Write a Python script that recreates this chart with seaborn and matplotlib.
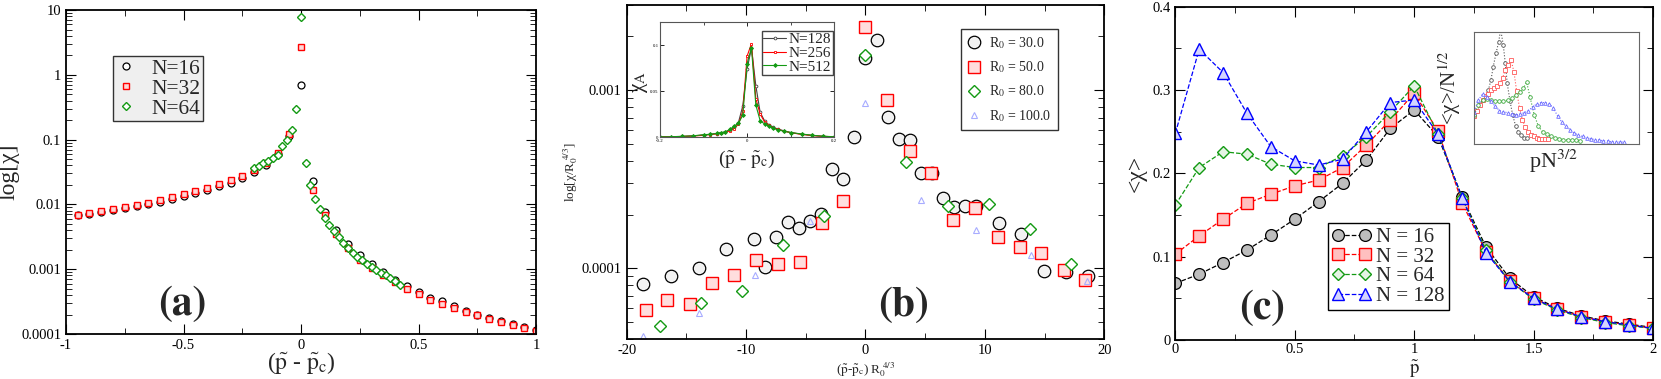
import matplotlib
matplotlib.use("Agg")
import matplotlib.pyplot as plt
from matplotlib.ticker import FuncFormatter, MultipleLocator, LogLocator, NullFormatter
import seaborn as sns

# ---------------- panel (a): log chi vs (p - pc) ----------------
a_x_16_32 = [-0.95, -0.9, -0.85, -0.8, -0.75, -0.7, -0.65, -0.6, -0.55, -0.5,
             -0.45, -0.4, -0.35, -0.3, -0.25, -0.2, -0.15, -0.1, -0.05, 0.0,
             0.05, 0.1, 0.15, 0.2, 0.25, 0.3, 0.35, 0.4, 0.45, 0.5,
             0.55, 0.6, 0.65, 0.7, 0.75, 0.8, 0.85, 0.9, 0.95, 1.0]
a_chi_16 = [0.0068, 0.0072, 0.0076, 0.0081, 0.0087, 0.0094, 0.0101, 0.0110, 0.0120, 0.0133,
            0.0148, 0.0165, 0.0190, 0.0217, 0.0258, 0.0320, 0.0410, 0.0590, 0.115, 0.70,
            0.0231, 0.0077, 0.0040, 0.00245, 0.00166, 0.00119, 0.00089, 0.00069, 0.00055, 0.00044,
            0.00036, 0.00032, 0.00027, 0.00023, 0.000199, 0.000178, 0.000158, 0.000142, 0.000127, 0.000115]
a_chi_32 = [0.0069, 0.0074, 0.0079, 0.0085, 0.0091, 0.0099, 0.0107, 0.0117, 0.0128, 0.0143,
            0.0160, 0.0178, 0.0206, 0.0234, 0.0276, 0.0340, 0.0430, 0.0620, 0.122, 2.73,
            0.0168, 0.0068, 0.0035, 0.0021, 0.00141, 0.00105, 0.00081, 0.00064, 0.00050, 0.00041,
            0.00034, 0.00029, 0.00025, 0.000218, 0.000195, 0.000172, 0.000153, 0.000138, 0.000124, 0.000113]
a_x_64 = [-0.2, -0.18, -0.16, -0.14, -0.12, -0.1, -0.08, -0.06, -0.04, -0.02, 0.0,
          0.02, 0.04, 0.06, 0.08, 0.1, 0.12, 0.14, 0.16, 0.18, 0.2,
          0.22, 0.24, 0.26, 0.28, 0.3, 0.32, 0.34, 0.36, 0.38, 0.4, 0.42]
a_chi_64 = [0.0366, 0.0398, 0.0437, 0.0475, 0.0522, 0.0588, 0.0789, 0.0977, 0.139, 0.296, 7.7,
            0.043, 0.020, 0.0121, 0.0085, 0.0062, 0.0048, 0.0039, 0.0031, 0.0025, 0.0021,
            0.00178, 0.00155, 0.00138, 0.00121, 0.00108, 0.00098, 0.00088, 0.00080, 0.00072, 0.00065, 0.00058]

# ---------------- panel (b): scaled chi vs scaled distance ----------------
b_x_30 = [-18.65, -16.26, -13.96, -11.66, -9.30, -8.40, -7.47, -6.52, -5.56, -4.63,
          -3.71, -2.78, -1.85, -0.93, 0.0, 0.93, 1.85, 2.78, 3.74, 4.66,
          5.59, 6.52, 7.44, 8.37, 9.30, 11.18, 13.06, 14.92, 16.77, 18.62]
b_y_30 = [8.13e-5, 9.0e-5, 1.0e-4, 1.28e-4, 1.46e-4, 1.02e-4, 1.49e-4, 1.81e-4, 1.68e-4, 1.85e-4,
          2.01e-4, 3.61e-4, 3.17e-4, 5.43e-4, 1.52e-3, 1.91e-3, 7.03e-4, 5.34e-4, 5.22e-4, 3.40e-4,
          3.44e-4, 2.49e-4, 2.20e-4, 2.24e-4, 2.22e-4, 1.80e-4, 1.56e-4, 9.58e-5, 9.46e-5, 9.0e-5]
b_x_50 = [-18.42, -16.59, -14.71, -12.86, -11.03, -9.21, -7.35, -5.50, -3.68, -1.85, 0.0,
          1.82, 3.71, 5.53, 7.35, 9.21, 11.06, 12.91, 14.74, 16.59, 18.42]
b_y_50 = [5.81e-5, 6.59e-5, 6.29e-5, 8.24e-5, 9.18e-5, 1.11e-4, 1.05e-4, 1.08e-4, 1.79e-4, 2.37e-4, 2.27e-3,
          8.83e-4, 4.53e-4, 3.44e-4, 1.86e-4, 2.17e-4, 1.50e-4, 1.32e-4, 1.21e-4, 9.70e-5, 8.6e-5]
b_x_80 = [-17.22, -13.75, -10.31, -6.88, -3.44, 0.0, 3.41, 6.88, 10.34, 13.78, 17.25]
b_y_80 = [4.71e-5, 6.37e-5, 7.46e-5, 1.35e-4, 1.97e-4, 1.57e-3, 3.94e-4, 2.22e-4, 2.30e-4, 1.66e-4, 1.05e-4]
b_x_100 = [-18.6, -13.96, -9.27, -4.63, 0.0, 4.63, 9.27, 13.9, 18.53]
b_y_100 = [4.14e-5, 5.6e-5, 9.18e-5, 1.83e-4, 8.42e-4, 2.4e-4, 1.64e-4, 1.19e-4, 8.49e-5]

# inset of (b): chi_A vs (p - pc)
bi_x = [-0.2, -0.175, -0.15, -0.125, -0.1, -0.085, -0.07, -0.06, -0.05, -0.04, -0.03, -0.02, -0.01,
        0.0, 0.01, 0.02, 0.03, 0.04, 0.05, 0.06, 0.07, 0.085, 0.1, 0.125, 0.15, 0.175, 0.2]
bi_128 = [0.0005, 0.0006, 0.0009, 0.0015, 0.0025, 0.0032, 0.0040, 0.0048, 0.0058, 0.0075, 0.011, 0.016, 0.034,
          0.074, 0.097, 0.056, 0.027, 0.018, 0.0135, 0.011, 0.009, 0.007, 0.0052, 0.0034, 0.0020, 0.0010, 0.0006]
bi_256 = [0.0005, 0.0006, 0.0009, 0.0014, 0.0022, 0.0030, 0.0038, 0.0046, 0.0056, 0.0070, 0.0095, 0.014, 0.028,
          0.088, 0.1015, 0.042, 0.025, 0.017, 0.013, 0.0105, 0.0085, 0.0067, 0.0050, 0.0032, 0.0019, 0.0010, 0.0006]
bi_512 = [0.0005, 0.0006, 0.0011, 0.0016, 0.0028, 0.0033, 0.0042, 0.0050, 0.0060, 0.0085, 0.012, 0.015, 0.024,
          0.080, 0.097, 0.035, 0.018, 0.0145, 0.012, 0.0098, 0.0082, 0.0066, 0.0052, 0.0036, 0.0022, 0.0012, 0.0006]

# ---------------- panel (c): <chi> vs p ----------------
c_p = [0.0, 0.1, 0.2, 0.3, 0.4, 0.5, 0.6, 0.7, 0.8, 0.9, 1.0,
       1.1, 1.2, 1.3, 1.4, 1.5, 1.6, 1.7, 1.8, 1.9, 2.0]
c_16 = [0.068, 0.079, 0.093, 0.108, 0.126, 0.145, 0.166, 0.188, 0.216, 0.254, 0.276,
        0.244, 0.172, 0.112, 0.074, 0.052, 0.038, 0.029, 0.023, 0.019, 0.015]
c_32 = [0.103, 0.125, 0.145, 0.164, 0.175, 0.185, 0.192, 0.207, 0.234, 0.264, 0.296,
        0.251, 0.165, 0.106, 0.071, 0.050, 0.037, 0.028, 0.022, 0.018, 0.014]
c_64 = [0.162, 0.207, 0.226, 0.223, 0.211, 0.207, 0.207, 0.221, 0.244, 0.274, 0.305,
        0.247, 0.171, 0.108, 0.070, 0.049, 0.036, 0.027, 0.021, 0.017, 0.014]
c_128 = [0.248, 0.349, 0.321, 0.272, 0.232, 0.215, 0.210, 0.217, 0.250, 0.285, 0.288,
         0.247, 0.171, 0.105, 0.070, 0.050, 0.037, 0.028, 0.022, 0.018, 0.014]

# inset of (c): <chi>/N^(1/2) vs pN^(3/2) (no tick labels, arbitrary units)
ci_x16 = [0, 0.18, 0.34, 0.51, 0.69, 0.85, 1.01, 1.15, 1.32, 1.48, 1.60,
          1.76, 1.88, 2.00, 2.17, 2.33, 2.51, 2.67, 2.83, 3.00, 3.18]
ci_y16 = [0.25, 0.30, 0.35, 0.39, 0.42, 0.48, 0.57, 0.69, 0.81, 0.91, 1.02,
          0.88, 0.72, 0.54, 0.38, 0.26, 0.16, 0.11, 0.08, 0.06, 0.06]
ci_x32 = [0, 0.16, 0.34, 0.51, 0.69, 0.85, 1.03, 1.19, 1.38, 1.54, 1.72, 1.88, 2.06, 2.23,
          2.41, 2.57, 2.75, 2.91, 3.10, 3.26, 3.44, 3.60, 3.79, 3.95, 4.13, 4.29, 4.47]
ci_y32 = [0.25, 0.30, 0.35, 0.39, 0.43, 0.45, 0.48, 0.50, 0.52, 0.54, 0.59, 0.66, 0.70, 0.75,
          0.64, 0.47, 0.32, 0.22, 0.15, 0.11, 0.08, 0.07, 0.06, 0.05, 0.05, 0.05, 0.05]
ci_x64 = [0, 0.24, 0.51, 0.75, 1.01, 1.26, 1.52, 1.76, 2.02, 2.27, 2.53, 2.77, 2.98, 3.18,
          3.38, 3.64, 3.89, 4.15, 4.39, 4.66, 4.90, 5.16, 5.40, 5.67, 5.91, 6.17, 6.42]
ci_y64 = [0.26, 0.35, 0.39, 0.40, 0.39, 0.38, 0.38, 0.38, 0.39, 0.41, 0.44, 0.46, 0.50, 0.55,
          0.42, 0.26, 0.16, 0.11, 0.09, 0.07, 0.06, 0.05, 0.04, 0.04, 0.04, 0.04, 0.03]
ci_x128 = [0, 0.24, 0.51, 0.75, 1.01, 1.26, 1.52, 1.76, 2.02, 2.27, 2.53, 2.77, 3.04, 3.28,
           3.54, 3.79, 4.05, 4.29, 4.55, 4.80, 5.06, 5.30, 5.57, 5.81, 6.07, 6.32, 6.58, 6.82,
           7.09, 7.33, 7.59, 7.83, 8.10, 8.34, 8.60, 8.85, 9.09]
ci_y128 = [0.29, 0.39, 0.45, 0.42, 0.38, 0.34, 0.30, 0.29, 0.28, 0.27, 0.26, 0.27, 0.28, 0.30,
           0.33, 0.36, 0.37, 0.37, 0.36, 0.32, 0.25, 0.20, 0.16, 0.13, 0.10, 0.08, 0.07, 0.06,
           0.05, 0.04, 0.04, 0.03, 0.03, 0.02, 0.02, 0.02, 0.02]

GREEN = "#139a13"

sns.set_style("ticks")
plt.rcParams.update({
    "font.family": ["Liberation Serif", "DejaVu Serif"],
    "mathtext.fontset": "stix",
    "axes.edgecolor": "black",
    "axes.linewidth": 1.3,
    "xtick.direction": "in",
    "ytick.direction": "in",
    "xtick.top": True,
    "ytick.right": True,
    "xtick.major.size": 7,
    "ytick.major.size": 7,
    "xtick.minor.size": 4,
    "ytick.minor.size": 4,
    "xtick.labelsize": 10.5,
    "ytick.labelsize": 10.5,
    "xtick.color": "black",
    "ytick.color": "black",
})

fmt_g = FuncFormatter(lambda v, pos: f"{v:g}")
PTILDE = r"($\tilde{\mathrm{p}}$ - $\tilde{\mathrm{p}}_{\mathrm{c}}$)"


def draw(ax, x, y, **kw):
    sns.lineplot(x=x, y=y, ax=ax, estimator=None, sort=False, errorbar=None, **kw)
    return ax.lines[-1]


def panel_tag(ax, x, y, s):
    ax.text(x, y, s, transform=ax.transAxes, fontsize=30, fontweight="bold",
            family="STIXGeneral", ha="center", va="center")


fig = plt.figure(figsize=(16.61, 3.79), dpi=100)

# ======== (a) ========
ax_a = fig.add_axes([0.03973, 0.1187, 0.2830, 0.8549])
la1 = draw(ax_a, a_x_16_32, a_chi_16, color="black", marker="o", ms=5, mfc="white",
           mec="black", mew=0.9, linestyle="none")
la2 = draw(ax_a, a_x_16_32, a_chi_32, color="red", marker="s", ms=5, mfc="#ffd6d6",
           mec="red", mew=1.0, linestyle="none")
la3 = draw(ax_a, a_x_64, a_chi_64, color=GREEN, marker="D", ms=4.2, mfc="white",
           mec=GREEN, mew=1.0, linestyle="none")
ax_a.set_yscale("log")
ax_a.set_xlim(-1, 1)
ax_a.set_ylim(1e-4, 10)
ax_a.xaxis.set_major_locator(MultipleLocator(0.5))
ax_a.xaxis.set_minor_locator(MultipleLocator(0.25))
ax_a.xaxis.set_major_formatter(fmt_g)
ax_a.yaxis.set_major_locator(LogLocator(base=10, numticks=10))
ax_a.yaxis.set_minor_locator(LogLocator(base=10, subs=range(2, 10), numticks=10))
ax_a.yaxis.set_major_formatter(fmt_g)
ax_a.yaxis.set_minor_formatter(NullFormatter())
ax_a.set_ylabel("log[χ]", fontsize=17)
ax_a.yaxis.set_label_coords(-0.098, 0.5)
ax_a.set_xlabel(PTILDE, fontsize=17)
ax_a.xaxis.set_label_coords(0.5, -0.05)
leg = ax_a.legend([la1, la2, la3], ["N=16", "N=32", "N=64"], loc="upper left",
                  bbox_to_anchor=(0.099, 0.858), borderaxespad=0, fontsize=15.5,
                  labelspacing=0.0, handlelength=1.0, handletextpad=0.7, borderpad=0.12,
                  fancybox=False, framealpha=1, numpoints=1)
leg.get_frame().set_facecolor("#efefef")
leg.get_frame().set_edgecolor("#333333")
panel_tag(ax_a, 0.247, 0.09, "(a)")

# ======== (b) ========
ax_b = fig.add_axes([0.3773, 0.1055, 0.2875, 0.8813])
lb1 = draw(ax_b, b_x_30, b_y_30, color="black", marker="o", ms=9, mfc="#f2f2f2",
           mec="black", mew=0.9, linestyle="none")
lb2 = draw(ax_b, b_x_50, b_y_50, color="red", marker="s", ms=8, mfc="#ffdede",
           mec="red", mew=1.0, linestyle="none")
lb3 = draw(ax_b, b_x_80, b_y_80, color=GREEN, marker="D", ms=6.5, mfc="white",
           mec=GREEN, mew=1.0, linestyle="none")
lb4 = draw(ax_b, b_x_100, b_y_100, color="#a8acff", marker="^", ms=5, mfc="none",
           mec="#a8acff", mew=0.8, linestyle="none")
ax_b.set_yscale("log")
ax_b.set_xlim(-20, 20)
ax_b.set_ylim(4.0e-5, 3.0e-3)
ax_b.xaxis.set_major_locator(MultipleLocator(10))
ax_b.xaxis.set_minor_locator(MultipleLocator(5))
ax_b.xaxis.set_major_formatter(fmt_g)
ax_b.yaxis.set_major_locator(LogLocator(base=10, numticks=10))
ax_b.yaxis.set_minor_locator(LogLocator(base=10, subs=range(2, 10), numticks=10))
ax_b.yaxis.set_major_formatter(fmt_g)
ax_b.yaxis.set_minor_formatter(NullFormatter())
ax_b.set_ylabel(r"log[χ/R$_0^{\ 4/3}$]", fontsize=9.5)
ax_b.yaxis.set_label_coords(-0.098, 0.5)
ax_b.set_xlabel(r"($\tilde{\mathrm{p}}$-$\tilde{\mathrm{p}}_{\mathrm{c}}$) R$_0^{\ 4/3}$", fontsize=9.5)
ax_b.xaxis.set_label_coords(0.5, -0.065)
ax_b.legend([lb1, lb2, lb3, lb4],
            [r"R$_0$ = 30.0", r"R$_0$ = 50.0", r"R$_0$ = 80.0", r"R$_0$ = 100.0"],
            loc="upper left", bbox_to_anchor=(0.70, 0.928), borderaxespad=0, fontsize=10,
            labelspacing=0.6, handlelength=1.0, handletextpad=0.6, borderpad=0.45,
            fancybox=False, framealpha=1, edgecolor="#333333", numpoints=1)
panel_tag(ax_b, 0.58, 0.10, "(b)")

# inset (b)
ax_bi = fig.add_axes([0.3974, 0.6377, 0.1048, 0.3043])
lbi1 = draw(ax_bi, bi_x, bi_128, color="#444444", marker="o", ms=2, mfc="white",
            mec="#444444", mew=0.6, lw=0.8)
lbi2 = draw(ax_bi, bi_x, bi_256, color="red", marker="s", ms=2, mfc="white",
            mec="red", mew=0.6, lw=0.8)
lbi3 = draw(ax_bi, bi_x, bi_512, color=GREEN, marker="D", ms=2, mfc=GREEN,
            mec=GREEN, mew=0.6, lw=0.8)
ax_bi.set_xlim(-0.2, 0.2)
ax_bi.set_ylim(0, 0.125)
ax_bi.xaxis.set_major_locator(MultipleLocator(0.2))
ax_bi.xaxis.set_minor_locator(MultipleLocator(0.1))
ax_bi.yaxis.set_major_locator(MultipleLocator(0.05))
ax_bi.xaxis.set_major_formatter(fmt_g)
ax_bi.yaxis.set_major_formatter(fmt_g)
ax_bi.tick_params(labelsize=3.5, length=3, width=0.6, pad=1)
ax_bi.tick_params(which="minor", length=2, width=0.5)
for sp in ax_bi.spines.values():
    sp.set_linewidth(0.8)
    sp.set_color("#555555")
ax_bi.set_ylabel(r"χ$_{\mathrm{A}}$", fontsize=15)
ax_bi.yaxis.set_label_coords(-0.06, 0.48)
ax_bi.set_xlabel(PTILDE, fontsize=14)
ax_bi.xaxis.set_label_coords(0.5, -0.1)
ax_bi.legend([lbi1, lbi2, lbi3], ["N=128", "N=256", "N=512"], loc="upper left",
             bbox_to_anchor=(0.584, 0.922), borderaxespad=0, fontsize=11,
             labelspacing=0.0, handlelength=1.5, handletextpad=0.15, borderpad=0.1,
             fancybox=False, framealpha=1, edgecolor="#444444")

# ======== (c) ========
ax_c = fig.add_axes([0.7076, 0.1029, 0.2876, 0.8794])
lc1 = draw(ax_c, c_p, c_16, color="black", marker="o", ms=8.5, mfc="#bdbdbd",
           mec="black", mew=0.9, linestyle="--", lw=0.9, dashes=(4, 2))
lc2 = draw(ax_c, c_p, c_32, color="red", marker="s", ms=8, mfc="#ffc0c0",
           mec="red", mew=1.0, linestyle="--", lw=0.9, dashes=(4, 2))
lc3 = draw(ax_c, c_p, c_64, color=GREEN, marker="D", ms=6.5, mfc="#e4f4e4",
           mec=GREEN, mew=1.0, linestyle="--", lw=0.9, dashes=(4, 2))
lc4 = draw(ax_c, c_p, c_128, color="blue", marker="^", ms=9, mfc="#d4d4ff",
           mec="blue", mew=1.0, linestyle="--", lw=0.9, dashes=(4, 2))
ax_c.set_xlim(0, 2)
ax_c.set_ylim(0, 0.4)
ax_c.xaxis.set_major_locator(MultipleLocator(0.5))
ax_c.xaxis.set_minor_locator(MultipleLocator(0.25))
ax_c.yaxis.set_major_locator(MultipleLocator(0.1))
ax_c.yaxis.set_minor_locator(MultipleLocator(0.05))
ax_c.xaxis.set_major_formatter(fmt_g)
ax_c.yaxis.set_major_formatter(fmt_g)
ax_c.tick_params(axis="x", which="major", pad=2)
ax_c.set_ylabel("<χ>", fontsize=17)
ax_c.yaxis.set_label_coords(-0.059, 0.5)
ax_c.set_xlabel(r"$\tilde{\mathrm{p}}$", fontsize=13.5)
ax_c.xaxis.set_label_coords(0.5, -0.056)
ax_c.legend([lc1, lc2, lc3, lc4], ["N = 16", "N = 32", "N = 64", "N = 128"],
            loc="lower left", bbox_to_anchor=(0.3195, 0.09), borderaxespad=0, fontsize=15,
            labelspacing=0.0, handlelength=1.9, handletextpad=0.2, borderpad=0.2,
            fancybox=False, framealpha=1, edgecolor="black", numpoints=2)
panel_tag(ax_c, 0.182, 0.093, "(c)")

# inset (c)
ax_ci = fig.add_axes([0.8876, 0.6193, 0.0992, 0.2971])
for xs, ys, col, mk in [(ci_x16, ci_y16, "#555555", "o"), (ci_x32, ci_y32, "#ff5a5a", "s"),
                        (ci_x64, ci_y64, "#3aa83a", "o"), (ci_x128, ci_y128, "#6a6aff", "^")]:
    draw(ax_ci, xs, ys, color=col, marker=mk, ms=2.6, mfc="white", mec=col, mew=0.6,
         linestyle=":", lw=0.8)
ax_ci.set_xlim(0, 10)
ax_ci.set_ylim(0, 1)
ax_ci.set_xticks([])
ax_ci.set_yticks([])
for sp in ax_ci.spines.values():
    sp.set_linewidth(0.8)
    sp.set_color("#666666")
ax_ci.set_ylabel(r"<χ>/N$^{1/2}$", fontsize=15)
ax_ci.yaxis.set_label_coords(-0.07, 0.5)
ax_ci.set_xlabel(r"pN$^{3/2}$", fontsize=16)
ax_ci.xaxis.set_label_coords(0.478, -0.03)

fig.savefig("out.png", dpi=100)
